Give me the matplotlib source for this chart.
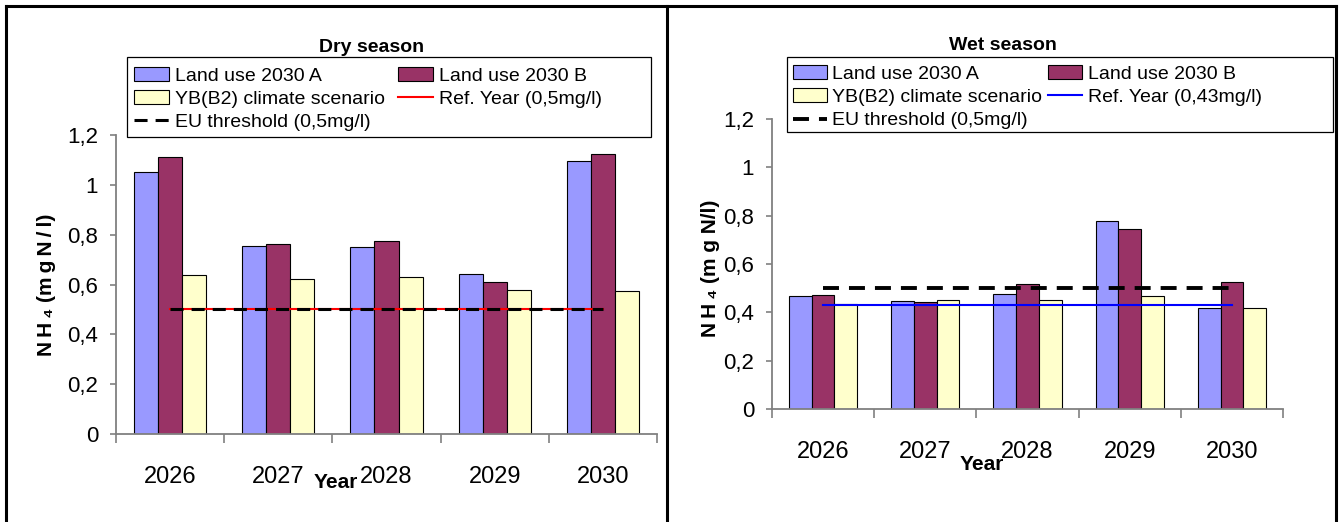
import numpy as np
import matplotlib
matplotlib.use('Agg')
import matplotlib.pyplot as plt
from matplotlib.lines import Line2D
from matplotlib.patches import Rectangle

plt.rcParams['font.family'] = ['Liberation Sans', 'DejaVu Sans']
plt.rcParams['lines.scale_dashes'] = False

years = ['2026', '2027', '2028', '2029', '2030']
y_ticks = [0, 0.2, 0.4, 0.6, 0.8, 1.0, 1.2]
y_tick_labels = ['0', '0,2', '0,4', '0,6', '0,8', '1', '1,2']

# NH4 concentrations (mgN/l), dry season
dry_a = [1.05, 0.756, 0.751, 0.644, 1.096]
dry_b = [1.11, 0.762, 0.774, 0.609, 1.123]
dry_c = [0.64, 0.621, 0.631, 0.577, 0.572]
dry_ref = 0.5

# NH4 concentrations (mgN/l), wet season
wet_a = [0.469, 0.446, 0.477, 0.779, 0.419]
wet_b = [0.473, 0.441, 0.518, 0.743, 0.524]
wet_c = [0.433, 0.452, 0.452, 0.469, 0.419]
wet_ref = 0.43

eu_threshold = 0.5

col_a = '#9999FF'
col_b = '#993366'
col_c = '#FFFFCC'

W, H = 1342, 522
fig = plt.figure(figsize=(W / 100, H / 100), dpi=100)
fig.patch.set_facecolor('white')

TS = '\u2009'  # thin space for the spaced-out axis titles


def fx(px):
    return px / W


def fy(py):
    return 1 - py / H


def box(x0, y0, x1, y1):
    return [fx(x0), fy(y1), (x1 - x0) / W, (y1 - y0) / H]


def draw_panel(ax, a, b, c, ref, ref_color, dash):
    x = np.arange(len(years))
    w = 1 / 4.5
    bars_a = ax.bar(x - w, a, w, color=col_a, edgecolor='#000000', linewidth=0.8)
    bars_b = ax.bar(x, b, w, color=col_b, edgecolor='#000000', linewidth=0.8)
    bars_c = ax.bar(x + w, c, w, color=col_c, edgecolor='#000000', linewidth=0.8)
    ref_line, = ax.plot([x[0], x[-1]], [ref, ref], color=ref_color, lw=1.5)
    eu_line, = ax.plot([x[0], x[-1]], [eu_threshold, eu_threshold],
                       color='black', lw=dash[2], dashes=dash[:2])

    ax.set_xlim(-0.5, len(years) - 0.5)
    ax.set_ylim(0, 1.2)
    for s in ['top', 'right']:
        ax.spines[s].set_visible(False)
    for s in ['left', 'bottom']:
        ax.spines[s].set_color('#808080')
        ax.spines[s].set_linewidth(1.3)

    ax.set_xticks(np.arange(-0.5, len(years)))
    ax.set_xticklabels([])
    ax.set_xticks(x, minor=True)
    ax.set_xticklabels(years, minor=True, fontsize=17)
    ax.tick_params(axis='x', which='major', direction='out', length=6.5,
                   width=1.2, color='#808080')
    ax.tick_params(axis='x', which='minor', length=0, pad=23)

    ax.set_yticks(y_ticks)
    ax.set_yticklabels(y_tick_labels, fontsize=16)
    ax.tick_params(axis='y', direction='out', length=4.3, width=1.2,
                   color='#808080', pad=8.6)
    return [bars_a, bars_c, eu_line, bars_b, ref_line]


# Dry season
ax1 = fig.add_axes(box(116, 135, 657, 434))
h1 = draw_panel(ax1, dry_a, dry_b, dry_c, dry_ref, '#FF0000', (9.4, 5.8, 2.2))
lab1 = ['Land use 2030 A', 'YB(B2) climate scenario', 'EU threshold (0,5mg/l)',
        'Land use 2030 B', 'Ref. Year (0,5mg/l)']
fig.legend(h1, lab1, ncol=2, frameon=False, loc='upper left',
           bbox_to_anchor=(fx(134), fy(67)), bbox_transform=fig.transFigure,
           borderaxespad=0, borderpad=0, fontsize=14, handlelength=1.8,
           handleheight=0.7, handletextpad=0.31, columnspacing=0.65,
           labelspacing=0.28)
fig.add_artist(Rectangle((fx(127), fy(137)), (651 - 127) / W, (137 - 57) / H,
                         transform=fig.transFigure, fill=False,
                         edgecolor='black', lw=0.9))
fig.text(fx(372), fy(47), 'Dry season', ha='center', va='center',
         fontsize=14, fontweight='bold')
fig.text(fx(46), fy(285), TS.join('NH₄') + ' (' + TS.join('mgN/l') + ')',
         rotation=90, ha='center', va='center', fontsize=15,
         fontweight='bold')
fig.text(fx(336), fy(482), 'Year', ha='center', va='center', fontsize=15,
         fontweight='bold')

# Wet season
ax2 = fig.add_axes(box(772, 119, 1283, 409))
h2 = draw_panel(ax2, wet_a, wet_b, wet_c, wet_ref, '#0000FF', (11.5, 7.2, 2.8))
lab2 = ['Land use 2030 A', 'YB(B2) climate scenario', 'EU threshold (0,5mg/l)',
        'Land use 2030 B', 'Ref. Year (0,43mg/l)']
fig.legend(h2, lab2, ncol=2, frameon=False, loc='upper left',
           bbox_to_anchor=(fx(793), fy(65)), bbox_transform=fig.transFigure,
           borderaxespad=0, borderpad=0, fontsize=14, handlelength=1.75,
           handleheight=0.7, handletextpad=0.28, columnspacing=0.3,
           labelspacing=0.3)
fig.add_artist(Rectangle((fx(787), fy(132)), (1333 - 787) / W, (132 - 57) / H,
                         transform=fig.transFigure, fill=False,
                         edgecolor='black', lw=0.9))
fig.text(fx(1003), fy(45), 'Wet season', ha='center', va='center',
         fontsize=14, fontweight='bold')
fig.text(fx(711), fy(268), TS.join('NH₄') + ' (m g N/l)',
         rotation=90, ha='center', va='center', fontsize=15,
         fontweight='bold')
fig.text(fx(982), fy(464), 'Year', ha='center', va='center', fontsize=15,
         fontweight='bold')

# panel frames
frame = dict(color='black', lw=2.2, transform=fig.transFigure, clip_on=False)
fig.add_artist(Line2D([fx(6), fx(1336)], [fy(6), fy(6)], **frame))
for px in (6, 667, 1336):
    fig.add_artist(Line2D([fx(px), fx(px)], [fy(6), fy(522)], **frame))

fig.savefig('out.png', dpi=100)
